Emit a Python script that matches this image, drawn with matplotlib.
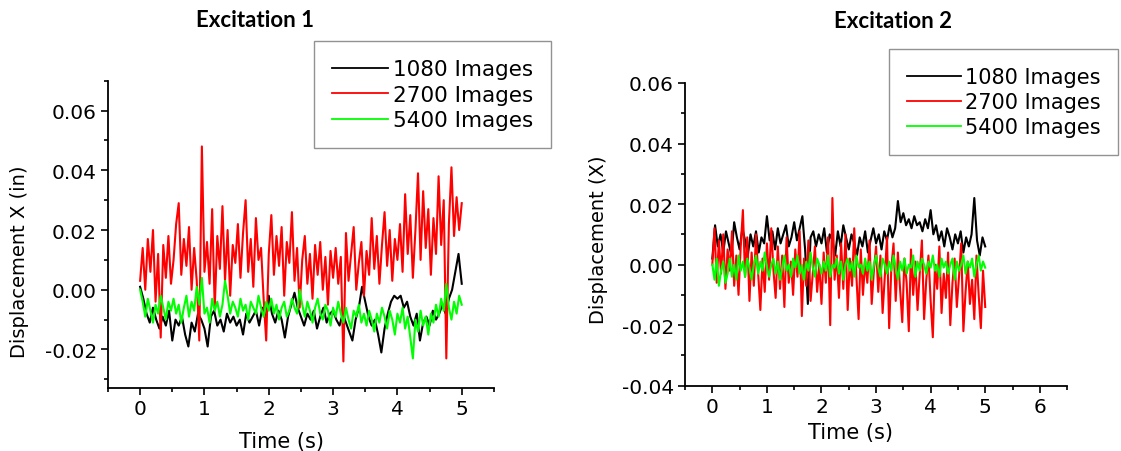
import numpy as np
import matplotlib
matplotlib.use("Agg")
import matplotlib.pyplot as plt
from matplotlib.ticker import MultipleLocator, FormatStrFormatter

plt.rcParams['font.family'] = ['DejaVu Sans']
plt.rcParams['axes.unicode_minus'] = False

# ---- data (displacement, t from 0 to 5 s) ----
labels = ["1080 Images", "2700 Images", "5400 Images"]
colors = ["black", "#ff0000", "#00ff00"]

# Excitation 1
exc1_1080 = [0.001, -0.003, -0.008, -0.011, -0.006, -0.010, -0.013, -0.009, -0.012, -0.007,
             -0.017, -0.010, -0.012, -0.009, -0.015, -0.019, -0.011, -0.014, -0.008, -0.010,
             -0.013, -0.019, -0.009, -0.007, -0.012, -0.010, -0.014, -0.008, -0.011, -0.009,
             -0.012, -0.010, -0.015, -0.008, -0.011, -0.009, -0.007, -0.012, -0.006, -0.010,
             -0.002, -0.008, -0.011, -0.007, -0.010, -0.016, -0.009, -0.005, -0.001, -0.006,
             -0.009, -0.012, -0.008, -0.010, -0.007, -0.013, -0.009, -0.006, -0.011, -0.008,
             -0.007, -0.010, -0.012, -0.008, -0.011, -0.014, -0.017, -0.010, -0.006, 0.001,
             -0.004, -0.009, -0.012, -0.010, -0.015, -0.021, -0.013, -0.008, -0.004, -0.002,
             -0.003, -0.002, -0.006, -0.004, -0.009, -0.012, -0.008, -0.017, -0.011, -0.009,
             -0.012, -0.007, -0.010, -0.008, -0.005, -0.008, -0.003, 0.000, 0.006, 0.012,
             0.002]
exc1_2700 = [0.003, 0.014, 0.000, 0.017, 0.006, 0.020, -0.004, 0.012, -0.016, 0.015, 0.004, 0.018, 0.002,
             0.010, 0.022, 0.029, 0.005, 0.017, 0.008, 0.021, 0.000, 0.014, 0.003, -0.017, 0.048, 0.006,
             0.016, 0.002, 0.027, -0.006, 0.018, 0.007, 0.028, 0.003, 0.020, -0.002, 0.015, 0.009,
             0.022, 0.004, 0.019, 0.030, 0.006, 0.017, 0.001, 0.024, 0.010, 0.014, -0.003, -0.017, 0.012,
             0.025, 0.005, 0.018, 0.008, 0.021, -0.002, 0.016, 0.009, 0.026, 0.003, 0.014, -0.006,
             0.010, 0.018, 0.002, 0.012, -0.003, 0.015, 0.005, 0.016, 0.000, 0.011, -0.005, 0.013, 0.004,
             0.014, 0.002, 0.011, -0.024, 0.019, 0.003, 0.012, 0.021, 0.000, 0.009, 0.016, -0.002,
             0.013, 0.005, 0.024, 0.007, 0.018, 0.002, 0.015, 0.026, 0.008, 0.020, 0.003, 0.017, 0.010,
             0.022, 0.006, 0.032, 0.012, 0.025, 0.004, 0.020, 0.039, 0.010, 0.033, 0.014, 0.027,
             0.005, 0.024, 0.012, 0.038, 0.015, 0.030, -0.023, 0.022, 0.041, 0.018, 0.031, 0.020, 0.029]
exc1_5400 = [0.000, -0.004, -0.009, -0.003, -0.007, -0.011, -0.005, -0.008, -0.002, -0.006, -0.010, -0.004, -0.007,
             -0.003, -0.008, -0.005, -0.011, -0.006, -0.002, -0.009, -0.004, -0.007, 0.001, -0.005, 0.004, -0.008,
             -0.006, -0.011, -0.003, -0.007, -0.004, -0.009, -0.005, 0.003, -0.002, -0.008, -0.004, -0.006,
             -0.009, -0.003, -0.007, -0.005, -0.010, -0.004, -0.006, -0.008, -0.002, -0.006, -0.009, -0.004, -0.007,
             -0.003, -0.008, -0.005, -0.010, -0.006, -0.004, -0.009, -0.007, -0.003, -0.006, -0.008, 0.000,
             -0.005, -0.009, -0.004, -0.007, -0.011, -0.006, -0.003, -0.008, -0.010, -0.005, -0.007, -0.012, -0.006,
             -0.009, -0.004, -0.008, -0.011, -0.006, -0.010, -0.013, -0.007, -0.009, -0.005, -0.011, -0.008,
             -0.012, -0.007, -0.010, -0.014, -0.008, -0.011, -0.006, -0.009, -0.013, -0.007, -0.010, -0.015, -0.008,
             -0.011, -0.006, -0.013, -0.009, -0.016, -0.023, -0.010, -0.014, -0.007, -0.012, -0.009, -0.015,
             -0.008, -0.011, -0.005, -0.009, -0.003, -0.007, 0.002, -0.006, -0.010, -0.004, -0.008, -0.002, -0.005]

# Excitation 2
exc2_1080 = [0.002, 0.013, 0.006, 0.010, 0.004, 0.011, 0.007, 0.003, 0.014, 0.009,
             0.005, 0.012, 0.008, 0.003, 0.010, 0.006, 0.011, 0.004, 0.009, 0.007,
             0.016, 0.008, 0.011, 0.005, 0.012, 0.007, 0.010, 0.013, 0.006, 0.009,
             0.014, 0.008, 0.012, 0.016, 0.005, -0.013, 0.009, 0.011, 0.006, 0.010,
             0.007, 0.012, 0.004, 0.010, 0.008, 0.003, 0.011, 0.006, 0.013, 0.009,
             0.005, 0.010, 0.007, 0.003, 0.009, 0.006, 0.011, 0.004, 0.008, 0.012,
             0.007, 0.010, 0.005, 0.011, 0.008, 0.013, 0.009, 0.012, 0.021, 0.014,
             0.017, 0.013, 0.015, 0.012, 0.016, 0.013, 0.014, 0.011, 0.015, 0.012,
             0.018, 0.010, 0.013, 0.008, 0.011, 0.006, 0.012, 0.009, 0.005, 0.010,
             0.007, 0.011, 0.004, 0.009, 0.006, 0.010, 0.022, 0.008, 0.003, 0.009,
             0.006]
exc2_2700 = [0.000, 0.012, -0.006, 0.008, -0.003, 0.010, -0.008, 0.005, -0.002, 0.011, -0.007, 0.003, -0.010,
             0.006, 0.018, -0.004, 0.009, -0.012, 0.004, -0.007, 0.010, -0.003, -0.015, 0.002, -0.009, 0.007,
             -0.005, 0.012, -0.002, -0.011, 0.006, -0.008, 0.003, -0.014, 0.009, -0.006, 0.001, -0.010,
             0.005, -0.004, 0.011, -0.017, 0.002, -0.007, 0.008, -0.012, -0.003, 0.006, -0.009, 0.000, -0.013,
             0.004, -0.006, 0.009, -0.020, 0.022, -0.005, 0.003, -0.011, 0.007, -0.008, 0.010, -0.015,
             0.002, -0.007, 0.012, -0.004, -0.018, 0.005, -0.010, 0.001, -0.006, 0.008, -0.013, -0.002, 0.006,
             -0.009, 0.003, -0.016, -0.004, 0.009, -0.021, -0.001, 0.007, -0.012, 0.004, -0.008, -0.019,
             0.002, -0.006, -0.022, 0.005, -0.010, 0.001, -0.015, -0.003, 0.008, -0.018, -0.005, 0.003, -0.012,
             -0.024, 0.000, -0.008, 0.006, -0.016, -0.003, -0.011, 0.004, -0.020, -0.006, 0.002, -0.014,
             -0.004, 0.007, -0.022, -0.009, 0.001, -0.013, -0.005, -0.018, 0.003, -0.010, -0.021, -0.002, -0.014]
exc2_5400 = [0.000, -0.005, 0.002, -0.007, -0.002, 0.001, -0.006, -0.003, 0.002, -0.004, 0.000, -0.005, 0.003,
             -0.002, 0.001, -0.004, 0.002, -0.001, -0.005, 0.000, 0.003, -0.003, 0.001, -0.002, 0.004, -0.001,
             -0.004, 0.000, 0.002, -0.003, 0.001, -0.005, -0.001, 0.003, -0.002, 0.000, -0.004, 0.002,
             -0.001, 0.003, -0.003, 0.000, -0.005, 0.001, -0.002, 0.004, -0.001, -0.004, 0.002, 0.000, -0.003,
             0.001, -0.002, 0.003, -0.004, 0.000, -0.001, 0.002, -0.003, 0.001, -0.005, 0.000, 0.002,
             -0.002, 0.001, -0.004, 0.003, -0.001, 0.000, -0.003, 0.002, -0.002, 0.001, -0.005, 0.000, 0.003,
             -0.001, -0.004, 0.002, 0.000, -0.003, 0.001, -0.002, 0.003, -0.001, -0.005, 0.001, -0.002,
             0.002, -0.003, 0.000, -0.001, 0.003, -0.004, 0.001, -0.002, 0.002, 0.000, -0.003, 0.001, -0.001,
             0.003, -0.002, 0.000, -0.004, 0.002, -0.001, 0.001, -0.003, 0.000, 0.002, -0.005, 0.001,
             -0.002, 0.000, 0.003, -0.003, 0.001, -0.001, 0.002, -0.004, 0.000, 0.003, -0.002, 0.001, -0.001]

panels = [
    dict(series=[exc1_1080, exc1_2700, exc1_5400], title="Excitation 1",
         ylabel="Displacement X (in)", xlim=(-0.5, 5.5), ylim=(-0.033, 0.07)),
    dict(series=[exc2_1080, exc2_2700, exc2_5400], title="Excitation 2",
         ylabel="Displacement (X)", xlim=(-0.5, 6.5), ylim=(-0.04, 0.06)),
]

fig = plt.figure(figsize=(11.21, 4.52), dpi=100)
ax_rects = [[0.0963, 0.1387, 0.3443, 0.6805], [0.6111, 0.1445, 0.3408, 0.6697]]
title_pos = [(0.2275, 0.954), (0.797, 0.953)]
ylabel_pos = [(0.017, 0.42), (0.534, 0.469)]
xlabel_pos = [(0.251, 0.022), (0.759, 0.042)]
legend_pos = [(0.2801, 0.9071), (0.793, 0.889)]
legend_size = [15.5, 15]

for i, p in enumerate(panels):
    ax = fig.add_axes(ax_rects[i])
    for vals, lab, col in zip(p["series"], labels, colors):
        t = np.linspace(0, 5, len(vals))
        ax.plot(t, vals, color=col, lw=1.5, label=lab)
    ax.set_xlim(*p["xlim"])
    ax.set_ylim(*p["ylim"])
    ax.xaxis.set_major_locator(MultipleLocator(1))
    ax.xaxis.set_minor_locator(MultipleLocator(0.5))
    ax.yaxis.set_major_locator(MultipleLocator(0.02))
    ax.yaxis.set_minor_locator(MultipleLocator(0.01))
    ax.yaxis.set_major_formatter(FormatStrFormatter('%.2f'))
    for s in ["top", "right"]:
        ax.spines[s].set_visible(False)
    for s in ["left", "bottom"]:
        ax.spines[s].set_linewidth(1.3)
    ax.tick_params(which="major", direction="out", length=5, width=1.2, labelsize=14.5, pad=3)
    ax.tick_params(which="minor", direction="out", length=3, width=1.2)

    fig.text(*title_pos[i], p["title"], ha="center", va="center",
             fontsize=16, fontweight="bold", family=["Lato", "DejaVu Sans"])
    fig.text(*ylabel_pos[i], p["ylabel"], ha="center", va="center",
             rotation=90, fontsize=14)
    fig.text(*xlabel_pos[i], "Time (s)", ha="center", va="center", fontsize=15)

    leg = ax.legend(loc="upper left", bbox_to_anchor=legend_pos[i],
                    bbox_transform=fig.transFigure, fontsize=legend_size[i], frameon=True,
                    fancybox=False, handlelength=2.6, handletextpad=0.2,
                    labelspacing=0.25, borderpad=0.85, borderaxespad=0)
    leg.get_frame().set_edgecolor("#777777")
    leg.get_frame().set_linewidth(1.0)
    for line in leg.get_lines():
        line.set_linewidth(1.3)

fig.savefig("out.png", dpi=100)
